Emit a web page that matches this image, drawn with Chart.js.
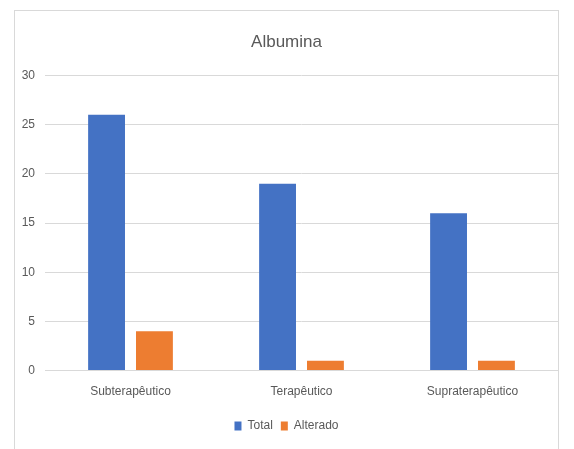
<!DOCTYPE html>
<html>
<head>
<meta charset="utf-8">
<script src="https://cdn.jsdelivr.net/npm/chart.js@4/dist/chart.umd.min.js"></script>
<style>
  html, body { margin: 0; padding: 0; background: #fff; }
  #frame {
    position: absolute; left: 14px; top: 10px; width: 545px; height: 445px;
    border: 1px solid #d9d9d9; box-sizing: border-box; background: #fff;
  }
  #wrap { position: absolute; left: 0; top: 0; width: 543px; height: 438px; }
</style>
</head>
<body>
<div id="frame"><div id="wrap"><canvas id="c"></canvas></div></div>
<script>
const categories = ['Subterapêutico', 'Terapêutico', 'Supraterapêutico'];
const totalValues = [26, 19, 16];
const alteradoValues = [4, 1, 1];
const yTicks = [0, 5, 10, 15, 20, 25, 30];

const FONT = '"Liberation Sans", "DejaVu Sans", sans-serif';
const GREY = '#595959';

new Chart(document.getElementById('c'), {
  type: 'bar',
  data: {
    labels: categories,
    datasets: [
      { label: 'Total', data: totalValues, backgroundColor: '#4472C4',
        categoryPercentage: 0.56, barPercentage: 0.77 },
      { label: 'Alterado', data: alteradoValues, backgroundColor: '#ED7D31',
        categoryPercentage: 0.56, barPercentage: 0.77 }
    ]
  },
  options: {
    responsive: true,
    maintainAspectRatio: false,
    animation: false,
    layout: { padding: { left: 0, right: 0, top: 15, bottom: 7 } },
    plugins: {
      title: {
        display: true, text: 'Albumina', color: GREY,
        font: { family: FONT, size: 17, weight: 'normal' },
        padding: { top: 6, bottom: 23 }
      },
      legend: {
        position: 'bottom',
        labels: {
          color: GREY, boxWidth: 7, boxHeight: 9, padding: 8,
          font: { family: FONT, size: 12 }
        }
      },
      tooltip: { enabled: false }
    },
    scales: {
      x: {
        grid: { display: false },
        border: { color: '#d9d9d9' },
        ticks: { color: GREY, font: { family: FONT, size: 12 }, padding: 6 },
        afterFit: (s) => { s.height += 7; }
      },
      y: {
        min: 0, max: 30,
        afterBuildTicks: (s) => { s.ticks = yTicks.map(v => ({ value: v })); },
        afterFit: (s) => { s.width = 30; },
        grid: { color: '#d9d9d9', drawTicks: false },
        border: { display: false },
        ticks: { color: GREY, font: { family: FONT, size: 12 }, padding: 10 }
      }
    }
  }
});
</script>
</body>
</html>
